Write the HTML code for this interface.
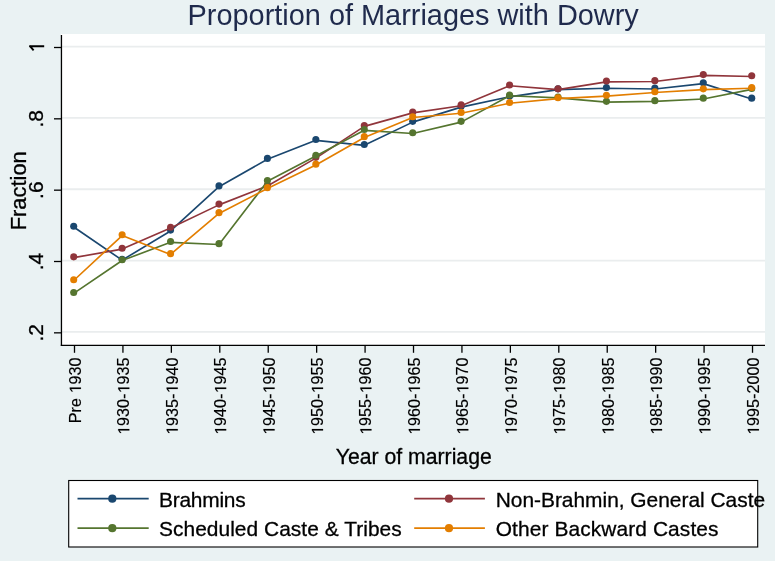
<!DOCTYPE html>
<html><head><meta charset="utf-8"><title>Proportion of Marriages with Dowry</title>
<style>html,body{margin:0;padding:0;background:#eaf2f3;width:775px;height:561px;overflow:hidden}
svg{display:block;will-change:transform} text{font-family:"Liberation Sans",sans-serif;stroke:currentColor;stroke-width:0.3px}</style></head>
<body><svg width="775" height="561" viewBox="0 0 775 561">
<rect x="0" y="0" width="775" height="561" fill="#eaf2f3"/>
<rect x="61" y="34" width="704" height="311.5" fill="#ffffff"/>
<line x1="62" y1="46.60" x2="765" y2="46.60" stroke="#eaedee" stroke-width="1.8"/>
<line x1="62" y1="117.93" x2="765" y2="117.93" stroke="#eaedee" stroke-width="1.8"/>
<line x1="62" y1="189.27" x2="765" y2="189.27" stroke="#eaedee" stroke-width="1.8"/>
<line x1="62" y1="260.60" x2="765" y2="260.60" stroke="#eaedee" stroke-width="1.8"/>
<line x1="62" y1="331.94" x2="765" y2="331.94" stroke="#eaedee" stroke-width="1.8"/>
<line x1="61.45" y1="35" x2="61.45" y2="346.1" stroke="#000" stroke-width="1.3"/>
<line x1="60.8" y1="345.45" x2="765" y2="345.45" stroke="#000" stroke-width="1.3"/>
<line x1="54" y1="47.50" x2="61.5" y2="47.50" stroke="#000" stroke-width="1.3"/>
<path d="M29.2,46.3 L44.2,46.3 M29.6,45.6 L33.6,50.4" stroke="#000" stroke-width="1.9" fill="none"/>
<line x1="54" y1="118.83" x2="61.5" y2="118.83" stroke="#000" stroke-width="1.3"/>
<text transform="translate(43.0,118.83) rotate(-90)" text-anchor="middle" font-size="21" fill="#000" style="color:#000">.8</text>
<line x1="54" y1="190.17" x2="61.5" y2="190.17" stroke="#000" stroke-width="1.3"/>
<text transform="translate(43.0,190.17) rotate(-90)" text-anchor="middle" font-size="21" fill="#000" style="color:#000">.6</text>
<line x1="54" y1="261.50" x2="61.5" y2="261.50" stroke="#000" stroke-width="1.3"/>
<text transform="translate(43.0,261.50) rotate(-90)" text-anchor="middle" font-size="21" fill="#000" style="color:#000">.4</text>
<line x1="54" y1="332.84" x2="61.5" y2="332.84" stroke="#000" stroke-width="1.3"/>
<text transform="translate(43.0,332.84) rotate(-90)" text-anchor="middle" font-size="21" fill="#000" style="color:#000">.2</text>
<line x1="74.50" y1="345.5" x2="74.50" y2="352.8" stroke="#000" stroke-width="1.3"/>
<path transform="translate(80.90,357.6) rotate(-90) translate(-36.039,0) scale(0.007910,-0.007910)" d="M583,0 L583,1237 L265,1010 L265,1180 L598,1409 L764,1409 L764,0 Z" fill="#000" stroke="#000" stroke-width="19.0"/>
<text transform="translate(80.90,357.6) rotate(-90)" text-anchor="end" font-size="16.2" fill="#000" style="color:#000;stroke-width:0.15px">Pre  930</text>
<line x1="122.93" y1="345.5" x2="122.93" y2="352.8" stroke="#000" stroke-width="1.3"/>
<path transform="translate(129.33,357.6) rotate(-90) translate(-77.472,0) scale(0.007910,-0.007910)" d="M583,0 L583,1237 L265,1010 L265,1180 L598,1409 L764,1409 L764,0 Z" fill="#000" stroke="#000" stroke-width="19.0"/>
<path transform="translate(129.33,357.6) rotate(-90) translate(-36.039,0) scale(0.007910,-0.007910)" d="M583,0 L583,1237 L265,1010 L265,1180 L598,1409 L764,1409 L764,0 Z" fill="#000" stroke="#000" stroke-width="19.0"/>
<text transform="translate(129.33,357.6) rotate(-90)" text-anchor="end" font-size="16.2" fill="#000" style="color:#000;stroke-width:0.15px"> 930- 935</text>
<line x1="171.36" y1="345.5" x2="171.36" y2="352.8" stroke="#000" stroke-width="1.3"/>
<path transform="translate(177.76,357.6) rotate(-90) translate(-77.472,0) scale(0.007910,-0.007910)" d="M583,0 L583,1237 L265,1010 L265,1180 L598,1409 L764,1409 L764,0 Z" fill="#000" stroke="#000" stroke-width="19.0"/>
<path transform="translate(177.76,357.6) rotate(-90) translate(-36.039,0) scale(0.007910,-0.007910)" d="M583,0 L583,1237 L265,1010 L265,1180 L598,1409 L764,1409 L764,0 Z" fill="#000" stroke="#000" stroke-width="19.0"/>
<text transform="translate(177.76,357.6) rotate(-90)" text-anchor="end" font-size="16.2" fill="#000" style="color:#000;stroke-width:0.15px"> 935- 940</text>
<line x1="219.79" y1="345.5" x2="219.79" y2="352.8" stroke="#000" stroke-width="1.3"/>
<path transform="translate(226.19,357.6) rotate(-90) translate(-77.472,0) scale(0.007910,-0.007910)" d="M583,0 L583,1237 L265,1010 L265,1180 L598,1409 L764,1409 L764,0 Z" fill="#000" stroke="#000" stroke-width="19.0"/>
<path transform="translate(226.19,357.6) rotate(-90) translate(-36.039,0) scale(0.007910,-0.007910)" d="M583,0 L583,1237 L265,1010 L265,1180 L598,1409 L764,1409 L764,0 Z" fill="#000" stroke="#000" stroke-width="19.0"/>
<text transform="translate(226.19,357.6) rotate(-90)" text-anchor="end" font-size="16.2" fill="#000" style="color:#000;stroke-width:0.15px"> 940- 945</text>
<line x1="268.22" y1="345.5" x2="268.22" y2="352.8" stroke="#000" stroke-width="1.3"/>
<path transform="translate(274.62,357.6) rotate(-90) translate(-77.472,0) scale(0.007910,-0.007910)" d="M583,0 L583,1237 L265,1010 L265,1180 L598,1409 L764,1409 L764,0 Z" fill="#000" stroke="#000" stroke-width="19.0"/>
<path transform="translate(274.62,357.6) rotate(-90) translate(-36.039,0) scale(0.007910,-0.007910)" d="M583,0 L583,1237 L265,1010 L265,1180 L598,1409 L764,1409 L764,0 Z" fill="#000" stroke="#000" stroke-width="19.0"/>
<text transform="translate(274.62,357.6) rotate(-90)" text-anchor="end" font-size="16.2" fill="#000" style="color:#000;stroke-width:0.15px"> 945- 950</text>
<line x1="316.65" y1="345.5" x2="316.65" y2="352.8" stroke="#000" stroke-width="1.3"/>
<path transform="translate(323.05,357.6) rotate(-90) translate(-77.472,0) scale(0.007910,-0.007910)" d="M583,0 L583,1237 L265,1010 L265,1180 L598,1409 L764,1409 L764,0 Z" fill="#000" stroke="#000" stroke-width="19.0"/>
<path transform="translate(323.05,357.6) rotate(-90) translate(-36.039,0) scale(0.007910,-0.007910)" d="M583,0 L583,1237 L265,1010 L265,1180 L598,1409 L764,1409 L764,0 Z" fill="#000" stroke="#000" stroke-width="19.0"/>
<text transform="translate(323.05,357.6) rotate(-90)" text-anchor="end" font-size="16.2" fill="#000" style="color:#000;stroke-width:0.15px"> 950- 955</text>
<line x1="365.08" y1="345.5" x2="365.08" y2="352.8" stroke="#000" stroke-width="1.3"/>
<path transform="translate(371.48,357.6) rotate(-90) translate(-77.472,0) scale(0.007910,-0.007910)" d="M583,0 L583,1237 L265,1010 L265,1180 L598,1409 L764,1409 L764,0 Z" fill="#000" stroke="#000" stroke-width="19.0"/>
<path transform="translate(371.48,357.6) rotate(-90) translate(-36.039,0) scale(0.007910,-0.007910)" d="M583,0 L583,1237 L265,1010 L265,1180 L598,1409 L764,1409 L764,0 Z" fill="#000" stroke="#000" stroke-width="19.0"/>
<text transform="translate(371.48,357.6) rotate(-90)" text-anchor="end" font-size="16.2" fill="#000" style="color:#000;stroke-width:0.15px"> 955- 960</text>
<line x1="413.51" y1="345.5" x2="413.51" y2="352.8" stroke="#000" stroke-width="1.3"/>
<path transform="translate(419.91,357.6) rotate(-90) translate(-77.472,0) scale(0.007910,-0.007910)" d="M583,0 L583,1237 L265,1010 L265,1180 L598,1409 L764,1409 L764,0 Z" fill="#000" stroke="#000" stroke-width="19.0"/>
<path transform="translate(419.91,357.6) rotate(-90) translate(-36.039,0) scale(0.007910,-0.007910)" d="M583,0 L583,1237 L265,1010 L265,1180 L598,1409 L764,1409 L764,0 Z" fill="#000" stroke="#000" stroke-width="19.0"/>
<text transform="translate(419.91,357.6) rotate(-90)" text-anchor="end" font-size="16.2" fill="#000" style="color:#000;stroke-width:0.15px"> 960- 965</text>
<line x1="461.94" y1="345.5" x2="461.94" y2="352.8" stroke="#000" stroke-width="1.3"/>
<path transform="translate(468.34,357.6) rotate(-90) translate(-77.472,0) scale(0.007910,-0.007910)" d="M583,0 L583,1237 L265,1010 L265,1180 L598,1409 L764,1409 L764,0 Z" fill="#000" stroke="#000" stroke-width="19.0"/>
<path transform="translate(468.34,357.6) rotate(-90) translate(-36.039,0) scale(0.007910,-0.007910)" d="M583,0 L583,1237 L265,1010 L265,1180 L598,1409 L764,1409 L764,0 Z" fill="#000" stroke="#000" stroke-width="19.0"/>
<text transform="translate(468.34,357.6) rotate(-90)" text-anchor="end" font-size="16.2" fill="#000" style="color:#000;stroke-width:0.15px"> 965- 970</text>
<line x1="510.37" y1="345.5" x2="510.37" y2="352.8" stroke="#000" stroke-width="1.3"/>
<path transform="translate(516.77,357.6) rotate(-90) translate(-77.472,0) scale(0.007910,-0.007910)" d="M583,0 L583,1237 L265,1010 L265,1180 L598,1409 L764,1409 L764,0 Z" fill="#000" stroke="#000" stroke-width="19.0"/>
<path transform="translate(516.77,357.6) rotate(-90) translate(-36.039,0) scale(0.007910,-0.007910)" d="M583,0 L583,1237 L265,1010 L265,1180 L598,1409 L764,1409 L764,0 Z" fill="#000" stroke="#000" stroke-width="19.0"/>
<text transform="translate(516.77,357.6) rotate(-90)" text-anchor="end" font-size="16.2" fill="#000" style="color:#000;stroke-width:0.15px"> 970- 975</text>
<line x1="558.80" y1="345.5" x2="558.80" y2="352.8" stroke="#000" stroke-width="1.3"/>
<path transform="translate(565.20,357.6) rotate(-90) translate(-77.472,0) scale(0.007910,-0.007910)" d="M583,0 L583,1237 L265,1010 L265,1180 L598,1409 L764,1409 L764,0 Z" fill="#000" stroke="#000" stroke-width="19.0"/>
<path transform="translate(565.20,357.6) rotate(-90) translate(-36.039,0) scale(0.007910,-0.007910)" d="M583,0 L583,1237 L265,1010 L265,1180 L598,1409 L764,1409 L764,0 Z" fill="#000" stroke="#000" stroke-width="19.0"/>
<text transform="translate(565.20,357.6) rotate(-90)" text-anchor="end" font-size="16.2" fill="#000" style="color:#000;stroke-width:0.15px"> 975- 980</text>
<line x1="607.23" y1="345.5" x2="607.23" y2="352.8" stroke="#000" stroke-width="1.3"/>
<path transform="translate(613.63,357.6) rotate(-90) translate(-77.472,0) scale(0.007910,-0.007910)" d="M583,0 L583,1237 L265,1010 L265,1180 L598,1409 L764,1409 L764,0 Z" fill="#000" stroke="#000" stroke-width="19.0"/>
<path transform="translate(613.63,357.6) rotate(-90) translate(-36.039,0) scale(0.007910,-0.007910)" d="M583,0 L583,1237 L265,1010 L265,1180 L598,1409 L764,1409 L764,0 Z" fill="#000" stroke="#000" stroke-width="19.0"/>
<text transform="translate(613.63,357.6) rotate(-90)" text-anchor="end" font-size="16.2" fill="#000" style="color:#000;stroke-width:0.15px"> 980- 985</text>
<line x1="655.66" y1="345.5" x2="655.66" y2="352.8" stroke="#000" stroke-width="1.3"/>
<path transform="translate(662.06,357.6) rotate(-90) translate(-77.472,0) scale(0.007910,-0.007910)" d="M583,0 L583,1237 L265,1010 L265,1180 L598,1409 L764,1409 L764,0 Z" fill="#000" stroke="#000" stroke-width="19.0"/>
<path transform="translate(662.06,357.6) rotate(-90) translate(-36.039,0) scale(0.007910,-0.007910)" d="M583,0 L583,1237 L265,1010 L265,1180 L598,1409 L764,1409 L764,0 Z" fill="#000" stroke="#000" stroke-width="19.0"/>
<text transform="translate(662.06,357.6) rotate(-90)" text-anchor="end" font-size="16.2" fill="#000" style="color:#000;stroke-width:0.15px"> 985- 990</text>
<line x1="704.09" y1="345.5" x2="704.09" y2="352.8" stroke="#000" stroke-width="1.3"/>
<path transform="translate(710.49,357.6) rotate(-90) translate(-77.472,0) scale(0.007910,-0.007910)" d="M583,0 L583,1237 L265,1010 L265,1180 L598,1409 L764,1409 L764,0 Z" fill="#000" stroke="#000" stroke-width="19.0"/>
<path transform="translate(710.49,357.6) rotate(-90) translate(-36.039,0) scale(0.007910,-0.007910)" d="M583,0 L583,1237 L265,1010 L265,1180 L598,1409 L764,1409 L764,0 Z" fill="#000" stroke="#000" stroke-width="19.0"/>
<text transform="translate(710.49,357.6) rotate(-90)" text-anchor="end" font-size="16.2" fill="#000" style="color:#000;stroke-width:0.15px"> 990- 995</text>
<line x1="752.52" y1="345.5" x2="752.52" y2="352.8" stroke="#000" stroke-width="1.3"/>
<path transform="translate(758.92,357.6) rotate(-90) translate(-77.472,0) scale(0.007910,-0.007910)" d="M583,0 L583,1237 L265,1010 L265,1180 L598,1409 L764,1409 L764,0 Z" fill="#000" stroke="#000" stroke-width="19.0"/>
<text transform="translate(758.92,357.6) rotate(-90)" text-anchor="end" font-size="16.2" fill="#000" style="color:#000;stroke-width:0.15px"> 995-2000</text>
<polyline points="73.70,226.99 122.13,260.16 170.56,230.92 218.99,186.69 267.42,159.22 315.85,140.32 364.28,145.31 412.71,122.13 461.14,107.15 509.57,96.81 558.00,89.67 606.43,88.25 654.86,88.96 703.29,83.61 751.72,98.95" fill="none" stroke="#1a476f" stroke-width="1.65" stroke-linejoin="round"/>
<circle cx="73.70" cy="226.19" r="3.55" fill="#1a476f"/>
<circle cx="122.13" cy="259.36" r="3.55" fill="#1a476f"/>
<circle cx="170.56" cy="230.12" r="3.55" fill="#1a476f"/>
<circle cx="218.99" cy="185.89" r="3.55" fill="#1a476f"/>
<circle cx="267.42" cy="158.42" r="3.55" fill="#1a476f"/>
<circle cx="315.85" cy="139.52" r="3.55" fill="#1a476f"/>
<circle cx="364.28" cy="144.51" r="3.55" fill="#1a476f"/>
<circle cx="412.71" cy="121.33" r="3.55" fill="#1a476f"/>
<circle cx="461.14" cy="106.35" r="3.55" fill="#1a476f"/>
<circle cx="509.57" cy="96.01" r="3.55" fill="#1a476f"/>
<circle cx="558.00" cy="88.87" r="3.55" fill="#1a476f"/>
<circle cx="606.43" cy="87.45" r="3.55" fill="#1a476f"/>
<circle cx="654.86" cy="88.16" r="3.55" fill="#1a476f"/>
<circle cx="703.29" cy="82.81" r="3.55" fill="#1a476f"/>
<circle cx="751.72" cy="98.15" r="3.55" fill="#1a476f"/>
<polyline points="73.70,257.67 122.13,249.11 170.56,228.06 218.99,204.88 267.42,185.97 315.85,158.15 364.28,126.41 412.71,112.86 461.14,105.72 509.57,85.75 558.00,89.67 606.43,81.83 654.86,81.47 703.29,75.41 751.72,76.48" fill="none" stroke="#90353b" stroke-width="1.65" stroke-linejoin="round"/>
<circle cx="73.70" cy="256.87" r="3.55" fill="#90353b"/>
<circle cx="122.13" cy="248.31" r="3.55" fill="#90353b"/>
<circle cx="170.56" cy="227.26" r="3.55" fill="#90353b"/>
<circle cx="218.99" cy="204.08" r="3.55" fill="#90353b"/>
<circle cx="267.42" cy="185.17" r="3.55" fill="#90353b"/>
<circle cx="315.85" cy="157.35" r="3.55" fill="#90353b"/>
<circle cx="364.28" cy="125.61" r="3.55" fill="#90353b"/>
<circle cx="412.71" cy="112.06" r="3.55" fill="#90353b"/>
<circle cx="461.14" cy="104.92" r="3.55" fill="#90353b"/>
<circle cx="509.57" cy="84.95" r="3.55" fill="#90353b"/>
<circle cx="558.00" cy="88.87" r="3.55" fill="#90353b"/>
<circle cx="606.43" cy="81.03" r="3.55" fill="#90353b"/>
<circle cx="654.86" cy="80.67" r="3.55" fill="#90353b"/>
<circle cx="703.29" cy="74.61" r="3.55" fill="#90353b"/>
<circle cx="751.72" cy="75.68" r="3.55" fill="#90353b"/>
<polyline points="73.70,293.33 122.13,260.52 170.56,242.33 218.99,244.47 267.42,181.34 315.85,156.01 364.28,130.33 412.71,133.54 461.14,122.13 509.57,95.74 558.00,97.88 606.43,102.16 654.86,101.44 703.29,98.95 751.72,89.32" fill="none" stroke="#55752f" stroke-width="1.65" stroke-linejoin="round"/>
<circle cx="73.70" cy="292.53" r="3.55" fill="#55752f"/>
<circle cx="122.13" cy="259.72" r="3.55" fill="#55752f"/>
<circle cx="170.56" cy="241.53" r="3.55" fill="#55752f"/>
<circle cx="218.99" cy="243.67" r="3.55" fill="#55752f"/>
<circle cx="267.42" cy="180.54" r="3.55" fill="#55752f"/>
<circle cx="315.85" cy="155.21" r="3.55" fill="#55752f"/>
<circle cx="364.28" cy="129.53" r="3.55" fill="#55752f"/>
<circle cx="412.71" cy="132.74" r="3.55" fill="#55752f"/>
<circle cx="461.14" cy="121.33" r="3.55" fill="#55752f"/>
<circle cx="509.57" cy="94.94" r="3.55" fill="#55752f"/>
<circle cx="558.00" cy="97.08" r="3.55" fill="#55752f"/>
<circle cx="606.43" cy="101.36" r="3.55" fill="#55752f"/>
<circle cx="654.86" cy="100.64" r="3.55" fill="#55752f"/>
<circle cx="703.29" cy="98.15" r="3.55" fill="#55752f"/>
<circle cx="751.72" cy="88.52" r="3.55" fill="#55752f"/>
<polyline points="73.70,280.49 122.13,235.55 170.56,254.46 218.99,213.44 267.42,188.47 315.85,164.93 364.28,137.47 412.71,117.49 461.14,113.21 509.57,103.23 558.00,98.59 606.43,96.09 654.86,92.53 703.29,89.67 751.72,88.25" fill="none" stroke="#e37e00" stroke-width="1.65" stroke-linejoin="round"/>
<circle cx="73.70" cy="279.69" r="3.55" fill="#e37e00"/>
<circle cx="122.13" cy="234.75" r="3.55" fill="#e37e00"/>
<circle cx="170.56" cy="253.66" r="3.55" fill="#e37e00"/>
<circle cx="218.99" cy="212.64" r="3.55" fill="#e37e00"/>
<circle cx="267.42" cy="187.67" r="3.55" fill="#e37e00"/>
<circle cx="315.85" cy="164.13" r="3.55" fill="#e37e00"/>
<circle cx="364.28" cy="136.67" r="3.55" fill="#e37e00"/>
<circle cx="412.71" cy="116.69" r="3.55" fill="#e37e00"/>
<circle cx="461.14" cy="112.41" r="3.55" fill="#e37e00"/>
<circle cx="509.57" cy="102.43" r="3.55" fill="#e37e00"/>
<circle cx="558.00" cy="97.79" r="3.55" fill="#e37e00"/>
<circle cx="606.43" cy="95.29" r="3.55" fill="#e37e00"/>
<circle cx="654.86" cy="91.73" r="3.55" fill="#e37e00"/>
<circle cx="703.29" cy="88.87" r="3.55" fill="#e37e00"/>
<circle cx="751.72" cy="87.45" r="3.55" fill="#e37e00"/>
<text x="413.2" y="24.6" text-anchor="middle" font-size="28.9" fill="#1f2a4c" style="stroke:none">Proportion of Marriages with Dowry</text>
<text transform="translate(25.5,190.8) rotate(-90)" text-anchor="middle" font-size="21.9" fill="#000" style="color:#000">Fraction</text>
<text x="413.8" y="464.2" text-anchor="middle" font-size="21.2" fill="#000" style="color:#000">Year of marriage</text>
<rect x="68.7" y="480.5" width="689" height="66.5" fill="#fff" stroke="#000" stroke-width="1.1"/>
<line x1="77.5" y1="498.7" x2="148.7" y2="498.7" stroke="#1a476f" stroke-width="1.8"/>
<circle cx="112.3" cy="498.7" r="4.1" fill="#1a476f"/>
<text x="159.0" y="506.7" font-size="20.9" fill="#000" style="color:#000;letter-spacing:-0.22px">Brahmins</text>
<line x1="414.2" y1="498.7" x2="484.9" y2="498.7" stroke="#90353b" stroke-width="1.8"/>
<circle cx="449.0" cy="498.7" r="4.1" fill="#90353b"/>
<text x="495.7" y="506.7" font-size="20.9" fill="#000" style="color:#000;letter-spacing:0px">Non-Brahmin, General Caste</text>
<line x1="77.5" y1="528.2" x2="148.7" y2="528.2" stroke="#55752f" stroke-width="1.8"/>
<circle cx="112.3" cy="528.2" r="4.1" fill="#55752f"/>
<text x="159.0" y="535.5" font-size="20.9" fill="#000" style="color:#000;letter-spacing:0.05px">Scheduled Caste &amp; Tribes</text>
<line x1="414.2" y1="528.2" x2="484.9" y2="528.2" stroke="#e37e00" stroke-width="1.8"/>
<circle cx="449.0" cy="528.2" r="4.1" fill="#e37e00"/>
<text x="495.7" y="535.5" font-size="20.9" fill="#000" style="color:#000;letter-spacing:0.11px">Other Backward Castes</text>
</svg></body></html>
